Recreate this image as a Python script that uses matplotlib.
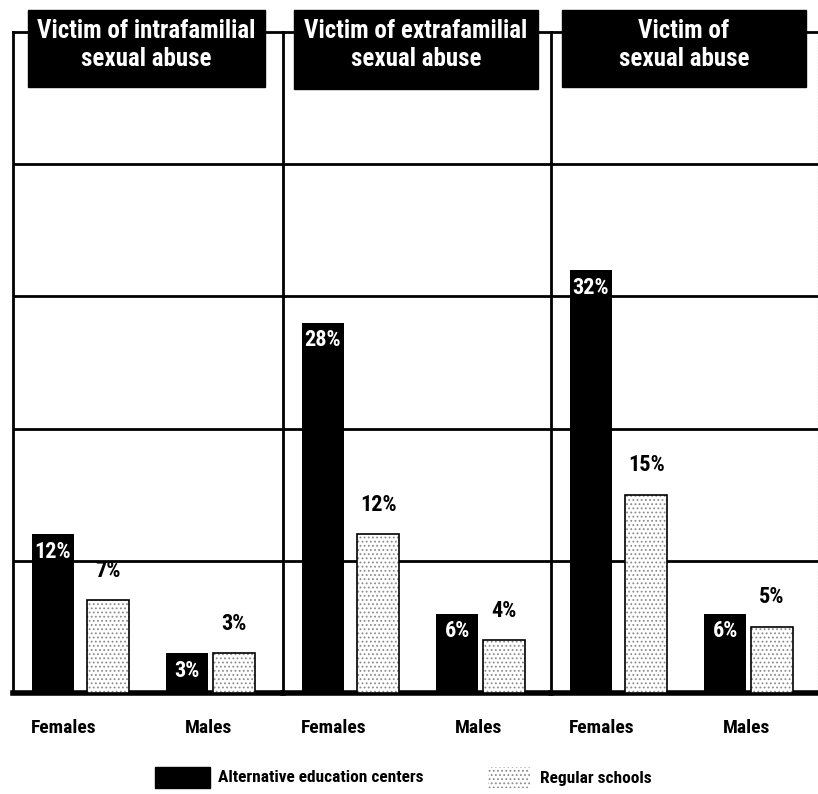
import matplotlib
matplotlib.use('Agg')
import matplotlib.pyplot as plt
from matplotlib.patches import Rectangle

# percentages by panel: [Females, Males]
panel_titles = ['Victim of intrafamilial\nsexual abuse',
                'Victim of extrafamilial\nsexual abuse',
                'Victim of\nsexual abuse']
groups = ['Females', 'Males']
alt_centers = [[12, 3], [28, 6], [32, 6]]
regular_schools = [[7, 3], [12, 4], [15, 5]]
grid_levels = [10, 20, 30, 40]

plt.rcParams['font.family'] = ['Roboto Condensed', 'Roboto', 'DejaVu Sans']
plt.rcParams['font.weight'] = 'bold'
plt.rcParams['hatch.color'] = '#8c8c8c'
plt.rcParams['hatch.linewidth'] = 0.8

W, H = 818, 794
fig = plt.figure(figsize=(W / 100, H / 100), dpi=100)


def box(x0, y0, x1, y1):
    # pixel box (top-left origin) -> figure fraction rect
    return [x0 / W, 1 - y1 / H, (x1 - x0) / W, (y1 - y0) / H]


lefts = [13, 283, 551]
rights = [283, 551, 818]
title_boxes = [(28, 10, 265, 87), (294, 10, 538, 89), (562, 10, 806, 87)]

x_alt = [0.95, 4.15]
x_reg = [2.27, 5.25]
x_tick = [1.2, 4.65]
bw = 1.0

for i in range(3):
    ax = fig.add_axes(box(lefts[i], 32, rights[i], 693))
    ax.set_xlim(0, (rights[i] - lefts[i]) / 42)
    ax.set_ylim(0, 50)

    for g in grid_levels:
        ax.axhline(g, color='black', lw=2, zorder=1)

    ax.bar(x_alt, alt_centers[i], width=bw, color='black', zorder=3)
    ax.bar(x_reg, regular_schools[i], width=bw, color='white',
           hatch='....', edgecolor='#8c8c8c', lw=0, zorder=3)
    ax.bar(x_reg, regular_schools[i], width=bw, fill=False,
           edgecolor='black', lw=1.2, zorder=4)

    for x, v in zip(x_alt, alt_centers[i]):
        ax.text(x, v - 0.5, f'{v}%', color='white', ha='center', va='top',
                fontsize=16, zorder=5)
    for x, v in zip(x_reg, regular_schools[i]):
        ax.text(x, v + 1.4, f'{v}%', color='black', ha='center', va='bottom',
                fontsize=16, zorder=5)

    ax.set_xticks(x_tick, groups, fontsize=14)
    ax.tick_params(axis='x', length=0, pad=19)
    ax.set_yticks([])

    ax.spines['left'].set_linewidth(2)
    ax.spines['top'].set_linewidth(2)
    ax.spines['bottom'].set_linewidth(4)
    if i < 2:
        ax.spines['right'].set_visible(False)
    else:
        ax.spines['right'].set_linestyle(':')
        ax.spines['right'].set_linewidth(0.8)
        ax.spines['right'].set_color('#555555')

    # black title plate over the top edge
    x0, y0, x1, y1 = title_boxes[i]
    fig.patches.append(Rectangle((x0 / W, 1 - y1 / H), (x1 - x0) / W, (y1 - y0) / H,
                                 transform=fig.transFigure, color='black', zorder=10))
    fig.text((x0 + x1) / 2 / W, 1 - 45 / H, panel_titles[i],
             color='white', ha='center', va='center', fontsize=18,
             linespacing=1.25, zorder=11)

# legend
fig.patches.append(Rectangle((155 / W, 1 - 788 / H), 55 / W, 21 / H,
                             transform=fig.transFigure, color='black'))
fig.text(218 / W, 1 - 778 / H, 'Alternative education centers',
         ha='left', va='center', fontsize=12.5)
fig.patches.append(Rectangle((488 / W, 1 - 788 / H), 42 / W, 21 / H,
                             transform=fig.transFigure, facecolor='white',
                             hatch='....', edgecolor='#8c8c8c', lw=0))
fig.text(540 / W, 1 - 778 / H, 'Regular schools',
         ha='left', va='center', fontsize=12.5)

fig.savefig('out.png', dpi=100)
